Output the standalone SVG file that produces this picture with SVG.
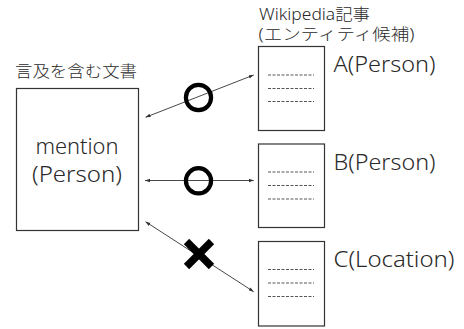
<svg xmlns="http://www.w3.org/2000/svg" width="464" height="329" viewBox="0 0 464 329">
  <style>
    text { font-family: "Noto Sans", "Noto Sans CJK JP", sans-serif; font-weight: 300; fill: #2a2a2a; }
    .doc { fill: #ffffff; stroke: #333333; stroke-width: 1.2; }
    .rule { stroke: #555555; stroke-width: 1; stroke-dasharray: 3 1.5; }
    .link { stroke: #333333; stroke-width: 0.9; fill: none; marker-start: url(#tip); marker-end: url(#tip); }
    .ok { fill: none; stroke: #000000; stroke-width: 4.2; }
    .ng { stroke: #000000; stroke-width: 7.5; }
  </style>
  <defs>
    <marker id="tip" viewBox="0 0 10 10" refX="10" refY="5" markerWidth="5" markerHeight="5" markerUnits="userSpaceOnUse" orient="auto-start-reverse">
      <path d="M0,1.5 L10,5 L0,8.5 z" fill="#333333"/>
    </marker>
  </defs>

  <!-- mention document -->
  <g id="mention-doc">
    <text x="15" y="77" font-size="16" textLength="122" lengthAdjust="spacingAndGlyphs">言及を含む文書</text>
    <rect class="doc" x="16.5" y="88.5" width="122" height="142"/>
    <text x="77" y="153.5" font-size="22.5" text-anchor="middle" textLength="83" lengthAdjust="spacingAndGlyphs">mention</text>
    <text x="77" y="181.5" font-size="22.5" text-anchor="middle" textLength="90" lengthAdjust="spacingAndGlyphs">(Person)</text>
  </g>

  <!-- candidate header -->
  <g id="candidates-title">
    <text x="259" y="19.5" font-size="16" textLength="111" lengthAdjust="spacingAndGlyphs">Wikipedia記事</text>
    <text x="258.5" y="39.5" font-size="16" textLength="156" lengthAdjust="spacingAndGlyphs">(エンティティ候補)</text>
  </g>

  <!-- candidate article A -->
  <g id="article-a">
    <rect class="doc" x="258.5" y="46.5" width="66" height="84"/>
    <line class="rule" x1="268" y1="75" x2="314" y2="75"/>
    <line class="rule" x1="268" y1="88.5" x2="314" y2="88.5"/>
    <line class="rule" x1="268" y1="101.5" x2="314" y2="101.5"/>
    <text x="333.5" y="72" font-size="22.5" textLength="102" lengthAdjust="spacingAndGlyphs">A(Person)</text>
  </g>

  <!-- candidate article B -->
  <g id="article-b">
    <rect class="doc" x="258.5" y="144" width="66" height="83.5"/>
    <line class="rule" x1="268" y1="172" x2="314" y2="172"/>
    <line class="rule" x1="268" y1="185.5" x2="314" y2="185.5"/>
    <line class="rule" x1="268" y1="199" x2="314" y2="199"/>
    <text x="333.5" y="169.5" font-size="22.5" textLength="102" lengthAdjust="spacingAndGlyphs">B(Person)</text>
  </g>

  <!-- candidate article C -->
  <g id="article-c">
    <rect class="doc" x="258.5" y="241.5" width="66" height="84.5"/>
    <line class="rule" x1="268" y1="269.5" x2="314" y2="269.5"/>
    <line class="rule" x1="268" y1="283" x2="314" y2="283"/>
    <line class="rule" x1="268" y1="296.5" x2="314" y2="296.5"/>
    <text x="333.5" y="267" font-size="22.5" textLength="121" lengthAdjust="spacingAndGlyphs">C(Location)</text>
  </g>

  <!-- links with their match marks -->
  <g id="connectors">
    <line class="link" x1="145.5" y1="117.3" x2="253.7" y2="75"/>
    <line class="link" x1="145" y1="180.5" x2="253.7" y2="180.5"/>
    <line class="link" x1="145.5" y1="221.7" x2="253.7" y2="291.7"/>
    <circle class="ok" cx="198.5" cy="97.5" r="12.6"/>
    <circle class="ok" cx="198.5" cy="180.8" r="12.6"/>
    <line class="ng" x1="186.5" y1="241.5" x2="211.5" y2="266.5"/>
    <line class="ng" x1="211.5" y1="241.5" x2="186.5" y2="266.5"/>
  </g>
</svg>
